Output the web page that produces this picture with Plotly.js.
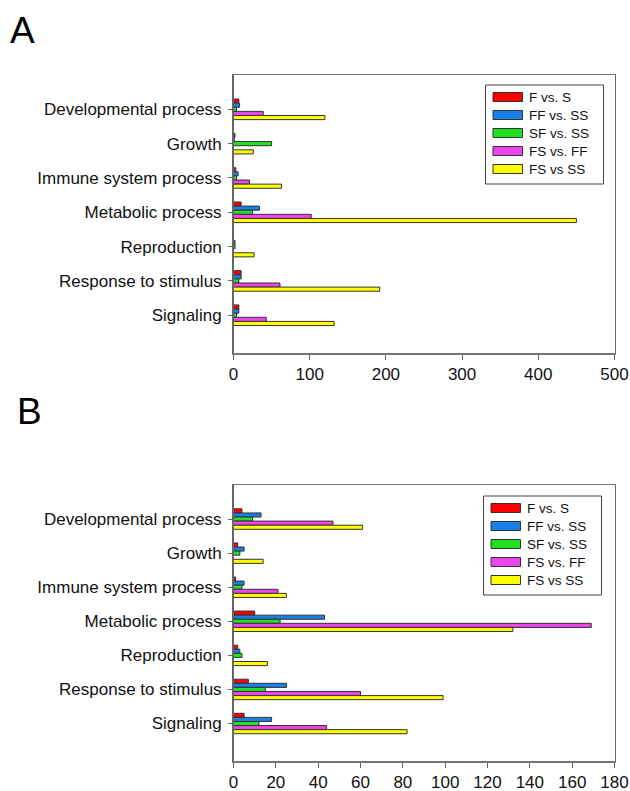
<!DOCTYPE html>
<html>
<head>
<meta charset="utf-8">
<script src="https://cdn.plot.ly/plotly-3.0.1.min.js"></script>
<style>
html,body{margin:0;padding:0;background:#fff;}
#chart{width:630px;height:791px;}
</style>
</head>
<body>
<div id="chart"></div>
<script>
// ---- data ----
const categories = ["Developmental process", "Growth", "Immune system process", "Metabolic process", "Reproduction", "Response to stimulus", "Signaling"];
const seriesNames = ["F vs. S", "FF vs. SS", "SF vs. SS", "FS vs. FF", "FS vs SS"];
const seriesColors = ["#ff0000", "#1a7fe6", "#22e022", "#ee44ee", "#ffff00"];

// Panel A values (per series, in category order)
const panelA_FvsS   = [7, 2, 3, 10, 0, 10, 7];
const panelA_FFvsSS = [8, 1, 6, 34, 2, 10, 7];
const panelA_SFvsSS = [4, 50, 4, 25, 2, 7, 4];
const panelA_FSvsFF = [39, 0, 21, 102, 0, 61, 43];
const panelA_FSvsSS = [120, 26, 63, 450, 27, 192, 132];

// Panel B values
const panelB_FvsS   = [4, 2, 1, 10, 2, 7, 5];
const panelB_FFvsSS = [13, 5, 5, 43, 3, 25, 18];
const panelB_SFvsSS = [9, 3, 4, 22, 4, 15, 12];
const panelB_FSvsFF = [47, 0, 21, 169, 0, 60, 44];
const panelB_FSvsSS = [61, 14, 25, 132, 16, 99, 82];

const panelA_ticks = [0, 100, 200, 300, 400, 500];
const panelB_ticks = [0, 20, 40, 60, 80, 100, 120, 140, 160, 180];

const panelLabels = ["A", "B"];

// ---- build ----
const W = 630, H = 791;
const px = v => v / W;
const py = v => 1 - v / H;

const panelA = [panelA_FvsS, panelA_FFvsSS, panelA_SFvsSS, panelA_FSvsFF, panelA_FSvsSS];
const panelB = [panelB_FvsS, panelB_FFvsSS, panelB_SFvsSS, panelB_FSvsFF, panelB_FSvsSS];

const traces = [];
function addPanel(vals, xa, ya) {
  vals.forEach((v, i) => {
    traces.push({
      type: 'bar', orientation: 'h',
      x: v, y: categories,
      name: seriesNames[i],
      xaxis: xa, yaxis: ya,
      marker: {color: seriesColors[i], line: {color: '#333333', width: 1}},
      showlegend: false,
      hoverinfo: 'x+name'
    });
  });
}
addPanel(panelA, 'x', 'y');
addPanel(panelB, 'x2', 'y2');

const fontFam = 'Liberation Sans, Arial, sans-serif';

function xaxisDef(range, ticks, anchor) {
  return {
    domain: [px(233.5), px(614.5)],
    anchor: anchor,
    range: range,
    tickmode: 'array', tickvals: ticks, ticktext: ticks.map(String),
    ticks: 'outside', ticklen: 5, tickwidth: 1, tickcolor: '#666',
    showline: true, linecolor: '#777', linewidth: 1.5, mirror: true,
    showgrid: false, zeroline: false,
    tickfont: {family: fontFam, size: 17, color: '#111'},
    fixedrange: true
  };
}
function yaxisDef(top, bot, anchor) {
  return {
    domain: [py(bot), py(top)],
    anchor: anchor,
    type: 'category',
    categoryorder: 'array', categoryarray: categories,
    range: [6 + 1.1, -1],
    ticks: 'outside', ticklen: 4, tickwidth: 1, tickcolor: '#666',
    showline: true, linecolor: '#666', linewidth: 1.5, mirror: true,
    showgrid: false, zeroline: false,
    tickfont: {family: fontFam, size: 17, color: '#111'},
    ticklabelstandoff: 3,
    fixedrange: true
  };
}

const shapes = [];
const annotations = [];

function addLegend(left, top) {
  const boxW = 118, rowH = 18, padTop = 3;
  const n = seriesNames.length;
  shapes.push({
    type: 'rect', xref: 'paper', yref: 'paper',
    x0: px(left), x1: px(left + boxW),
    y0: py(top + padTop + rowH * n + 6), y1: py(top),
    line: {color: '#444', width: 1}, fillcolor: 'rgba(0,0,0,0)'
  });
  seriesNames.forEach((name, i) => {
    const cy = top + 12 + i * rowH;
    shapes.push({
      type: 'rect', xref: 'paper', yref: 'paper',
      x0: px(left + 7.5), x1: px(left + 37),
      y0: py(cy + 4.5), y1: py(cy - 4.5),
      line: {color: '#333', width: 1}, fillcolor: seriesColors[i]
    });
    annotations.push({
      xref: 'paper', yref: 'paper',
      x: px(left + 41), y: py(cy),
      xanchor: 'left', yanchor: 'middle',
      text: name, showarrow: false,
      font: {family: fontFam, size: 13.5, color: '#111'}
    });
  });
}
addLegend(485.5, 85);
addLegend(483.5, 496);

annotations.push({
  xref: 'paper', yref: 'paper', x: px(8), y: py(8),
  xanchor: 'left', yanchor: 'top', text: panelLabels[0], showarrow: false,
  font: {family: fontFam, size: 37, color: '#000'}
});
annotations.push({
  xref: 'paper', yref: 'paper', x: px(15), y: py(389),
  xanchor: 'left', yanchor: 'top', text: panelLabels[1], showarrow: false,
  font: {family: fontFam, size: 37, color: '#000'}
});

const layout = {
  width: W, height: H,
  margin: {l: 0, r: 0, t: 0, b: 0, pad: 0},
  paper_bgcolor: '#fff', plot_bgcolor: '#fff',
  barmode: 'group', bargap: 0.4, bargroupgap: 0,
  showlegend: false,
  xaxis: xaxisDef([0, 500], panelA_ticks, 'y'),
  yaxis: yaxisDef(75, 353, 'x'),
  xaxis2: xaxisDef([0, 180], panelB_ticks, 'y2'),
  yaxis2: yaxisDef(485, 761, 'x2'),
  shapes: shapes,
  annotations: annotations,
  font: {family: fontFam}
};

Plotly.newPlot('chart', traces, layout, {displayModeBar: false, staticPlot: true});
</script>
</body>
</html>
